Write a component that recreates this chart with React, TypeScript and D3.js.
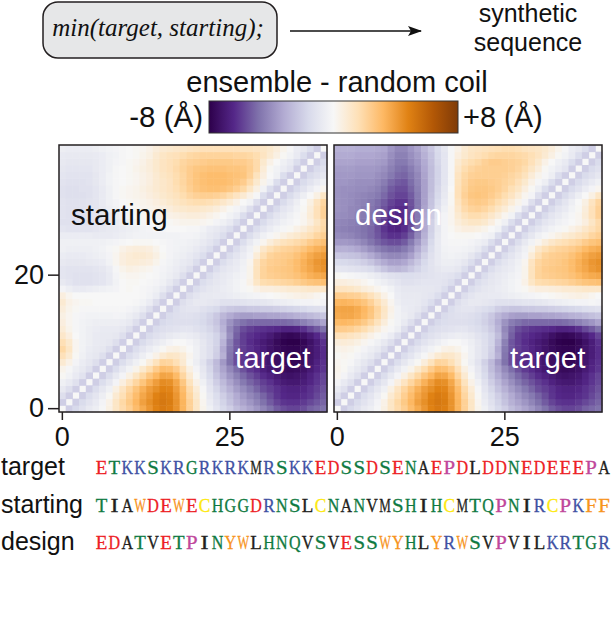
import React, { useEffect, useRef } from 'react';
import * as d3 from 'd3';

const WIDTH = 611;
const HEIGHT = 631;
const N = 40;
const PANEL_Y = { top: 145, bottom: 412 };
const PANELS_X = [[59, 327], [334, 602]];
const FONT = '"Liberation Sans", Arial, sans-serif';
const SEQ_FONT_SIZE = 18.6;

// lower right triangle, index is the row from the bottom, cells start just right of the diagonal
const TARGET_ROWS = [
  [-2,-1.6,-1.2,-.8,-.5,-.1,.5,1.2,1.8,2.3,3,3.6,4.2,4.8,5.1,4.9,4.3,3.3,2.2,1.2,.3,-.4,-1,-1.6,-2,-2.6,-3,-3.4,-3.8,-4.3,-4.8,-5.3,-5.6,-5.8,-5.8,-5.6,-5.2,-5,-4.8],
  [-2,-1.5,-1.1,-.7,-.2,.4,1.2,1.9,2.5,3.2,3.9,4.4,4.9,5.2,5,4.3,3.3,2.2,1.2,.2,-.6,-1.2,-1.8,-2.4,-3,-3.4,-3.8,-4.3,-4.8,-5.3,-5.8,-6.1,-6.2,-6.2,-6,-5.7,-5.4,-5.1],
  [-2,-1.4,-1,-.5,.1,.9,1.6,2.3,3,3.7,4.2,4.8,5.1,4.9,4.2,3.2,2,1,.1,-.8,-1.4,-2,-2.6,-3.2,-3.7,-4.2,-4.6,-5.1,-5.6,-6.1,-6.4,-6.5,-6.5,-6.3,-6.1,-5.7,-5.3],
  [-2,-1.4,-.9,-.4,.5,1.3,2,2.7,3.4,4,4.4,4.8,4.7,4,3,1.8,.8,-.1,-1,-1.7,-2.4,-3,-3.6,-4.1,-4.6,-5.1,-5.6,-5.9,-6.2,-6.5,-6.6,-6.6,-6.5,-6.2,-5.9,-5.5],
  [-2,-1.4,-.9,-.2,.6,1.3,2,2.7,3.4,4,4.5,4.4,3.7,2.6,1.4,.4,-.4,-1.2,-2,-2.7,-3.4,-4,-4.6,-5.1,-5.5,-5.9,-6.2,-6.6,-6.9,-7,-7,-6.8,-6.5,-6.1,-5.7],
  [-2,-1.4,-.8,-.2,.5,1.2,1.9,2.6,3.2,3.8,3.7,3.1,2,.9,.1,-.7,-1.5,-2.3,-3.1,-3.8,-4.4,-5,-5.5,-5.9,-6.3,-6.6,-6.9,-7.2,-7.3,-7.2,-7,-6.6,-6.2,-5.8],
  [-2,-1.4,-.8,-.3,.3,1,1.7,2.4,3,2.9,2.4,1.5,.5,-.2,-.9,-1.7,-2.6,-3.4,-4.2,-4.9,-5.5,-6,-6.3,-6.7,-7,-7.2,-7.5,-7.6,-7.5,-7.3,-6.9,-6.5,-6.1],
  [-2,-1.4,-.9,-.4,.1,.7,1.4,2.1,2,1.6,.9,.1,-.5,-1.1,-1.9,-2.7,-3.7,-4.8,-5.6,-6.1,-6.4,-6.6,-6.8,-7.1,-7.4,-7.6,-7.7,-7.7,-7.5,-7.1,-6.6,-6.2],
  [-2,-1.4,-1,-.5,-.1,.4,.9,1.2,1.1,.8,.2,-.4,-.9,-1.3,-2,-3,-4.7,-5.6,-6,-6.3,-6.5,-6.8,-7.1,-7.4,-7.6,-7.8,-7.8,-7.6,-7.2,-6.8,-6.3],
  [-2,-1.4,-1,-.6,-.3,.1,.4,.5,.3,0,-.4,-.9,-1.3,-1.9,-3.2,-4.6,-5.4,-5.9,-6.2,-6.5,-6.8,-7.2,-7.5,-7.7,-7.8,-7.8,-7.6,-7.2,-6.8,-6.3],
  [-2,-1.5,-1.1,-.8,-.5,-.2,0,0,-.2,-.5,-.9,-1.3,-1.8,-2.9,-4.4,-5.4,-5.9,-6.3,-6.6,-6.9,-7.2,-7.6,-7.9,-8,-8,-7.7,-7.3,-6.8,-6.2],
  [-2,-1.5,-1.2,-1,-.8,-.6,-.5,-.6,-.8,-1.1,-1.4,-1.8,-2.6,-4,-5.2,-5.9,-6.2,-6.4,-6.6,-6.9,-7.3,-7.6,-7.7,-7.6,-7.3,-6.9,-6.4,-5.8],
  [-2,-1.5,-1.3,-1.2,-1.1,-1,-1,-1.2,-1.4,-1.7,-2.1,-2.9,-4.2,-5,-5.6,-5.9,-6.1,-6.2,-6.3,-6.4,-6.6,-6.6,-6.5,-6.2,-5.7,-5.3,-4.8],
  [-2,-1.6,-1.4,-1.3,-1.3,-1.3,-1.4,-1.6,-1.9,-2.3,-3.1,-3.9,-4.5,-4.8,-5,-5,-5,-5,-5,-5,-4.9,-4.7,-4.4,-4.1,-3.8,-3.4],
  [-2,-1.5,-1.3,-1.2,-1.2,-1.3,-1.5,-1.8,-2.2,-2.8,-3.2,-3.5,-3.6,-3.6,-3.5,-3.5,-3.4,-3.4,-3.3,-3.2,-3,-2.9,-2.7,-2.5,-2.3],
  [-2,-1.4,-1.1,-1,-1,-1.2,-1.4,-1.6,-2,-2.2,-2.3,-2.3,-2.2,-2.2,-2.1,-2.1,-2,-1.9,-1.8,-1.7,-1.6,-1.4,-1.3,-1.2],
  [-2,-1.3,-1,-.8,-.8,-.9,-1,-1.2,-1.2,-1.2,-1.1,-1,-1,-.9,-.8,-.6,-.5,-.4,-.3,-.2,-.2,-.1,-.2],
  [-2,-1.3,-1,-.8,-.8,-.7,-.7,-.6,-.5,-.4,-.3,-.2,-.1,0,.1,.2,.3,.4,.5,.4,.2,0],
  [-2,-1.4,-1.1,-.9,-.8,-.6,-.5,-.3,-.1,.1,.4,.6,.6,.7,.8,.9,.9,1,1.1,1.1,1.1],
  [-2,-1.4,-1.1,-.9,-.7,-.5,-.3,-.1,.4,1.2,1.7,1.8,1.9,2,2.1,2.3,2.5,2.7,2.8,2.9],
  [-2,-1.4,-1,-.8,-.6,-.4,-.2,.3,1.4,2.1,2.3,2.4,2.5,2.6,2.8,3.1,3.4,3.6,3.7],
  [-2,-1.4,-1,-.8,-.6,-.3,.3,1.4,2.1,2.4,2.5,2.6,2.7,3,3.4,3.7,4.1,4.3],
  [-2,-1.4,-1,-.7,-.4,.2,1.3,2,2.3,2.4,2.5,2.7,3,3.4,3.8,4.2,4.4],
  [-2,-1.4,-1,-.6,-.2,.8,1.6,2.1,2.3,2.4,2.5,2.8,3.2,3.6,3.9,4.1],
  [-2,-1.4,-.9,-.4,.3,1.1,1.6,1.9,2.1,2.2,2.4,2.7,3.1,3.4,3.6],
  [-2,-1.4,-.8,-.3,.2,.7,1.1,1.4,1.6,1.8,2,2.4,2.7,2.9],
  [-2,-1.4,-.9,-.4,-.1,.2,.5,.8,1,1.3,1.6,2,2.3],
  [-2,-1.4,-1,-.6,-.3,-.1,.1,.4,.7,1.1,1.5,1.9],
  [-2,-1.5,-1,-.7,-.4,-.2,0,.2,.6,1.2,1.8],
  [-2,-1.5,-1,-.7,-.4,-.1,.2,.8,1.5,2.2],
  [-2,-1.5,-1,-.7,-.3,.1,.7,1.5,2.2],
  [-2,-1.5,-1,-.5,0,.5,1.3,2],
  [-2,-1.5,-1,-.5,0,.5,1.2],
  [-2,-1.5,-1.1,-.6,-.2,.2],
  [-2,-1.5,-1.1,-.7,-.4],
  [-2,-1.5,-1.2,-.9],
  [-2,-1.5,-1.2],
  [-2,-1.5],
  [-2],
];

// upper left triangles, index + 1 is the row from the bottom, cells start at the left edge
const STARTING_ROWS = [
  [-2],
  [-1.3,-2],
  [-.8,-1.3,-2],
  [-.4,-.7,-1.2,-2],
  [.1,-.3,-.7,-1.1,-2],
  [.3,-.1,-.5,-.8,-1.2,-2],
  [.9,.4,-.2,-.6,-.9,-1.3,-2],
  [1.5,.9,.1,-.4,-.7,-.9,-1.3,-2],
  [1.9,1.2,.2,-.3,-.6,-.8,-.9,-1.3,-2],
  [1.6,1,.2,-.3,-.5,-.7,-.8,-.9,-1.3,-2],
  [1.1,.6,0,-.3,-.5,-.7,-.8,-.8,-.9,-1.3,-2],
  [.8,.3,-.1,-.3,-.5,-.6,-.7,-.7,-.7,-.9,-1.3,-2],
  [.6,.2,-.1,-.3,-.4,-.5,-.5,-.5,-.5,-.6,-.8,-1.3,-2],
  [.5,.2,-.1,-.2,-.3,-.3,-.3,-.3,-.2,-.3,-.5,-.8,-1.3,-2],
  [.7,.3,.1,-.1,-.1,-.1,-.1,-.1,-.1,-.1,-.2,-.4,-.7,-1.3,-2],
  [.9,.4,.2,.1,.1,0,0,0,0,0,0,-.1,-.3,-.6,-1.3,-2],
  [.6,.2,0,0,0,0,0,0,0,0,0,0,-.1,-.3,-.6,-1.3,-2],
  [-.2,-.5,-.7,-.7,-.6,-.5,-.4,-.3,-.2,0,.1,0,-.1,-.2,-.4,-.7,-1.3,-2],
  [-.8,-1,-1.2,-1.2,-1.2,-1.1,-1,-.7,-.3,0,.1,.1,0,-.1,-.2,-.4,-.8,-1.3,-2],
  [-1,-1.1,-1.2,-1.2,-1.2,-1.1,-1,-.7,-.2,.1,.2,.2,.1,0,-.1,-.3,-.5,-.8,-1.3,-2],
  [-1,-1.1,-1.1,-1.1,-1.1,-1,-.9,-.6,-.1,.3,.5,.4,.3,.2,-.1,-.2,-.4,-.6,-.9,-1.3,-2],
  [-.8,-.9,-.9,-.9,-.8,-.7,-.6,-.3,.2,.6,.8,.8,.7,.6,.3,-.1,-.3,-.5,-.7,-.9,-1.4,-2],
  [-.6,-.7,-.7,-.7,-.6,-.5,-.4,-.2,.2,.6,.8,.9,.9,.8,.5,.1,-.2,-.4,-.5,-.7,-1,-1.4,-2],
  [-.4,-.5,-.5,-.5,-.5,-.4,-.3,-.1,.1,.4,.6,.7,.7,.6,.3,0,-.2,-.3,-.4,-.5,-.7,-1,-1.4,-2],
  [-.4,-.4,-.4,-.4,-.4,-.4,-.4,-.3,-.2,-.1,0,.1,.1,.1,0,-.1,-.2,-.3,-.3,-.4,-.5,-.7,-1,-1.4,-2],
  [-.6,-.6,-.6,-.6,-.6,-.7,-.7,-.7,-.6,-.5,-.4,-.3,-.3,-.3,-.3,-.3,-.3,-.3,-.2,-.2,-.3,-.5,-.8,-1,-1.4,-2],
  [-1,-1.1,-1.1,-1.1,-1.1,-1,-.9,-.8,-.7,-.6,-.5,-.4,-.3,-.2,-.1,-.1,0,0,0,-.1,-.1,-.3,-.6,-.8,-1,-1.4,-2],
  [-1.2,-1.2,-1.2,-1.2,-1.2,-1.1,-1,-.8,-.6,-.4,-.3,-.2,-.1,0,0,.1,.1,.2,.3,.3,.3,.2,.1,-.2,-.4,-.7,-1.4,-2],
  [-1.1,-1.2,-1.2,-1.2,-1.1,-1,-.9,-.7,-.5,-.3,-.1,0,.1,.1,.2,.3,.4,.5,.6,.7,.7,.6,.4,.2,0,-.3,-.6,-1.4,-2],
  [-1.1,-1.2,-1.2,-1.2,-1.1,-1,-.8,-.5,-.3,-.1,0,.1,.2,.3,.4,.5,.7,.9,1,1.1,1.1,1,.9,.7,.4,.1,-.2,-.5,-1.3,-2],
  [-1.1,-1.2,-1.2,-1.2,-1.1,-1,-.7,-.4,-.2,0,.1,.2,.3,.4,.6,.8,1,1.2,1.4,1.6,1.7,1.7,1.6,1.4,1.1,.8,.4,0,-.3,-1.3,-2],
  [-1.2,-1.3,-1.3,-1.3,-1.2,-1,-.7,-.4,-.1,.1,.2,.3,.4,.6,.8,1,1.2,1.4,1.7,2,2.2,2.3,2.3,2.2,2,1.7,1.3,.9,.4,-.1,-1.4,-2],
  [-1.2,-1.3,-1.3,-1.2,-1.2,-1,-.7,-.4,-.1,.1,.2,.3,.5,.7,.9,1.1,1.3,1.6,1.9,2.3,2.6,2.8,2.9,2.9,2.8,2.6,2.3,1.9,1.2,.5,-.3,-1.4,-2],
  [-1.1,-1.2,-1.2,-1.2,-1.1,-.9,-.6,-.3,-.1,0,.1,.2,.4,.6,.9,1.1,1.3,1.7,2,2.4,2.7,2.9,3,3,3,2.9,2.7,2.4,1.8,1,.3,-.3,-1.4,-2],
  [-1,-1.1,-1.1,-1.1,-1.1,-.9,-.6,-.3,-.1,0,.1,.2,.4,.6,.9,1.2,1.4,1.7,2,2.4,2.7,2.9,3,3,3,2.9,2.8,2.7,2.2,1.4,.6,0,-.4,-1.4,-2],
  [-.9,-1,-1,-1,-1,-.8,-.6,-.4,-.1,0,.1,.3,.5,.7,1,1.3,1.5,1.8,2.1,2.4,2.6,2.7,2.8,2.8,2.8,2.7,2.7,2.6,2.3,1.8,.8,.1,-.3,-.6,-1,-2],
  [-.8,-.9,-.9,-.9,-.9,-.8,-.6,-.4,-.2,-.1,.1,.2,.4,.7,1,1.3,1.5,1.7,2,2.2,2.3,2.4,2.5,2.5,2.5,2.5,2.4,2.4,2.2,1.8,1,.4,0,-.4,-.7,-1.4,-2],
  [-.7,-.8,-.8,-.8,-.8,-.7,-.6,-.4,-.3,-.1,0,.1,.3,.5,.9,1.2,1.4,1.5,1.7,1.9,2,2.1,2.1,2.1,2.1,2.1,2,2,1.9,1.7,1.3,.9,.5,.1,-.3,-.7,-1.4,-2],
  [-.5,-.6,-.6,-.6,-.6,-.5,-.4,-.3,-.2,-.1,0,.1,.2,.4,.7,.9,1,1.1,1.2,1.3,1.4,1.5,1.5,1.5,1.5,1.5,1.5,1.4,1.4,1.3,1.2,1,.7,.3,-.1,-.6,-.9,-1.4,-2],
];

const DESIGN_ROWS = [
  [-2],
  [-1.2,-2],
  [-.7,-1.2,-2],
  [-.2,-.7,-1.2,-2],
  [.2,-.2,-.7,-1.2,-2],
  [.3,.1,-.4,-.8,-1.2,-2],
  [.2,.1,-.1,-.5,-.9,-1.3,-2],
  [.1,.2,.1,-.2,-.5,-.8,-1.3,-2],
  [.3,.4,.3,.1,-.2,-.5,-.8,-1.3,-2],
  [.7,.8,.7,.5,.2,-.1,-.4,-.8,-1.3,-2],
  [1.5,1.5,1.3,1.1,.8,.4,.1,-.2,-.6,-1.3,-2],
  [2.4,2.4,2.3,2,1.7,1.2,.7,.2,-.1,-.5,-1.3,-2],
  [3.1,3.2,3.1,2.9,2.5,2,1.4,.7,.1,-.3,-.7,-1.3,-2],
  [3.6,3.7,3.7,3.5,3.1,2.6,1.9,1.1,.3,-.3,-.5,-.8,-1.3,-2],
  [3.7,3.8,3.8,3.6,3.2,2.7,2,1.2,.4,-.3,-.6,-.7,-.9,-1.3,-2],
  [3.2,3.3,3.2,3,2.7,2.2,1.6,.9,.2,-.5,-.7,-.7,-.8,-1,-1.4,-2],
  [2.4,2.4,2.3,2.2,1.9,1.5,1,.4,0,-.6,-.8,-.8,-.8,-.9,-1,-1.4,-2],
  [1.3,1.3,1.2,1,.7,.5,.2,0,-.3,-.7,-.9,-.9,-.9,-.9,-.9,-1,-1.4,-2],
  [.6,.6,.5,.4,.2,0,-.3,-.5,-.8,-1,-1.2,-1.2,-1.1,-1,-1,-1,-1.1,-1.4,-2],
  [.1,0,-.1,-.2,-.3,-.5,-.7,-1,-1.2,-1.3,-1.4,-1.4,-1.3,-1.2,-1.1,-1,-1,-1.1,-1.4,-2],
  [-.9,-1,-1.1,-1.2,-1.3,-1.5,-1.9,-2.3,-2.7,-2.8,-2.6,-2.2,-1.8,-1.4,-1.1,-.9,-.7,-.7,-.9,-1.4,-2],
  [-1.5,-1.6,-1.7,-1.8,-2,-2.3,-2.8,-3.2,-3.5,-3.5,-3.3,-2.8,-2.2,-1.6,-1.1,-.7,-.5,-.5,-.6,-.9,-1.4,-2],
  [-2.2,-2.3,-2.4,-2.5,-2.8,-3.2,-3.6,-4,-4.2,-4.2,-4,-3.5,-2.7,-1.9,-1.2,-.7,-.4,-.3,-.4,-.5,-.9,-1.4,-2],
  [-3,-3,-3.1,-3.3,-3.6,-4,-4.4,-4.7,-4.9,-4.9,-4.6,-4.1,-3.2,-2.3,-1.4,-.7,-.3,-.2,-.2,-.3,-.4,-.7,-1.4,-2],
  [-3.7,-3.7,-3.8,-4,-4.3,-4.7,-5.1,-5.4,-5.6,-5.6,-5.3,-4.6,-3.7,-2.7,-1.6,-.7,-.2,-.1,-.1,-.1,-.2,-.4,-.6,-1.4,-2],
  [-4.1,-4.2,-4.3,-4.5,-4.7,-5,-5.4,-5.9,-6.2,-6.2,-5.9,-5.2,-4.2,-3,-1.8,-.8,-.2,0,.1,.1,.1,0,-.2,-.4,-1.4,-2],
  [-4.3,-4.4,-4.5,-4.6,-4.8,-5,-5.5,-6.1,-6.5,-6.6,-6.3,-5.6,-4.5,-3.2,-1.9,-.9,-.2,.1,.4,.6,.6,.5,.3,0,-.3,-1.4,-2],
  [-4.2,-4.3,-4.4,-4.5,-4.7,-4.9,-5.4,-6,-6.5,-6.7,-6.5,-5.8,-4.6,-3.2,-1.9,-.9,-.2,.2,.7,1,1.2,1.2,1,.6,.1,-.4,-1.4,-2],
  [-4,-4.1,-4.2,-4.4,-4.6,-4.8,-5.2,-5.7,-6.3,-6.5,-6.4,-5.7,-4.6,-3.3,-2.1,-1,-.2,.2,.9,1.4,1.7,1.7,1.5,1.1,.7,.2,-.3,-1.4,-2],
  [-3.9,-4,-4.2,-4.3,-4.5,-4.7,-5,-5.5,-6,-6.3,-6.3,-5.6,-4.6,-3.4,-2.3,-1.2,-.4,.2,1.1,1.8,2.1,2.2,2,1.7,1.2,.8,.3,-.2,-1.3,-2],
  [-3.9,-4,-4.1,-4.3,-4.4,-4.6,-4.9,-5.3,-5.8,-6.1,-6.1,-5.5,-4.6,-3.5,-2.4,-1.4,-.6,.1,1.3,2,2.4,2.5,2.4,2.1,1.7,1.3,.8,.3,-.2,-1.3,-2],
  [-3.9,-4,-4.1,-4.2,-4.3,-4.4,-4.6,-5,-5.5,-5.8,-5.8,-5.3,-4.5,-3.5,-2.5,-1.6,-.8,.1,1.5,2.2,2.6,2.7,2.6,2.4,2.1,1.7,1.3,.8,.2,-.2,-1.3,-2],
  [-3.9,-4,-4,-4.1,-4.1,-4.2,-4.4,-4.8,-5.3,-5.6,-5.6,-5.1,-4.4,-3.5,-2.6,-1.7,-.9,0,1.5,2.1,2.5,2.6,2.6,2.5,2.3,2,1.6,1.2,.6,.1,-.5,-1.4,-2],
  [-3.8,-3.8,-3.9,-4,-4,-4,-4.2,-4.5,-5,-5.3,-5.4,-4.9,-4.3,-3.5,-2.6,-1.8,-1,-.1,1.4,2,2.4,2.5,2.5,2.4,2.3,2.1,1.9,1.5,1,.4,-.1,-.5,-1.4,-2],
  [-3.7,-3.7,-3.7,-3.8,-3.8,-3.8,-4,-4.2,-4.6,-5,-5.1,-4.7,-4.2,-3.4,-2.6,-1.8,-1,-.1,1.3,1.9,2.2,2.3,2.3,2.3,2.3,2.2,2,1.8,1.4,.8,.3,-.1,-.5,-1.4,-2],
  [-3.6,-3.6,-3.6,-3.7,-3.7,-3.7,-3.8,-4,-4.4,-4.8,-4.9,-4.5,-4,-3.3,-2.6,-1.8,-1,-.1,1.1,1.7,2,2.2,2.3,2.3,2.3,2.3,2.2,2,1.7,1.2,.7,.1,-.3,-.6,-1,-2],
  [-3.4,-3.4,-3.4,-3.5,-3.5,-3.5,-3.6,-3.7,-4.2,-4.6,-4.6,-4.2,-3.8,-3.2,-2.5,-1.7,-1,-.1,.9,1.4,1.7,1.9,2.2,2.4,2.4,2.3,2.2,2.1,1.9,1.5,1,.4,0,-.4,-.7,-1.4,-2],
  [-3.2,-3.2,-3.2,-3.3,-3.3,-3.3,-3.4,-3.5,-4,-4.4,-4.4,-4,-3.6,-3,-2.4,-1.6,-1,-.1,.6,1,1.3,1.5,1.7,1.9,2,2,2,1.9,1.8,1.6,1.3,.9,.5,.1,-.3,-.7,-1.4,-2],
  [-3,-3,-3,-3.1,-3.1,-3.1,-3.2,-3.3,-3.8,-4.2,-4.2,-3.8,-3.4,-2.8,-2.2,-1.5,-.9,-.1,.4,.9,1.2,1.3,1.4,1.5,1.6,1.7,1.7,1.6,1.4,1.3,1.2,1,.7,.3,-.1,-.6,-.9,-1.4,-2],
];

const X_TICKS = [0, 25];
const Y_TICKS = [0, 20];

const SEQUENCES = [
  { name: 'target', letters: 'ETKKSKRGRKRKMRSKKEDSSDSENAEPDLDDNEDEEEPA', y: 474 },
  { name: 'starting', letters: 'TIAWDEWECHGGDRNSLCNANVMSHIHCMTQPNIRCPKFF', y: 512 },
  { name: 'design', letters: 'EDATVETPINYWLHNQVSVESSWYHLYRWSVPVILKRTGR', y: 549 },
];

const RESIDUE_COLORS: Record<string, string> = {
  D: '#ed2024', E: '#ed2024',
  K: '#3f51a3', R: '#3f51a3',
  S: '#0f7a42', T: '#0f7a42', N: '#0f7a42', Q: '#0f7a42', G: '#0f7a42', H: '#0f7a42',
  A: '#231f20', V: '#231f20', L: '#231f20', I: '#231f20', M: '#231f20',
  P: '#c0479b',
  W: '#f7941d', Y: '#f7941d', F: '#f7941d',
  C: '#fde910',
};

// natural glyph widths of the serif face, in em, so that each letter can be squeezed to one pitch
const GLYPH_EM: Record<string, number> = {
  W: 0.944, M: 0.889,
  K: 0.722, G: 0.722, N: 0.722, D: 0.722, A: 0.722, H: 0.722, Q: 0.722, Y: 0.722, V: 0.722,
  R: 0.667, C: 0.667,
  E: 0.611, T: 0.611, L: 0.611,
  S: 0.556, P: 0.556, F: 0.556,
  I: 0.333,
};

const color = d3
  .scaleLinear<string>()
  .domain(d3.range(11).map((i) => -8 + i * 1.6))
  .range(d3.schemePuOr[11]);

const index = d3.range(N);

type PanelProps = {
  x0: number;
  x1: number;
  upper: number[][];
  showY: boolean;
  labels: { text: string; x: number; y: number; fill: string }[];
};

const Panel = ({ x0, x1, upper, showY, labels }: PanelProps) => {
  const axesRef = useRef<SVGGElement>(null);
  const xScale = d3.scaleBand<number>().domain(index).range([x0, x1]);
  const yScale = d3.scaleBand<number>().domain(index).range([PANEL_Y.bottom, PANEL_Y.top]);

  useEffect(() => {
    const svgElement = d3.select(axesRef.current);
    svgElement.selectAll('*').remove();

    const xAxis = svgElement
      .append('g')
      .attr('transform', `translate(0,${PANEL_Y.bottom})`)
      .call(d3.axisBottom(xScale).tickValues(X_TICKS).tickSize(8).tickPadding(7));
    xAxis.select('.domain').remove();

    const axes = [xAxis];
    if (showY) {
      const yAxis = svgElement
        .append('g')
        .attr('transform', `translate(${x0},0)`)
        .call(d3.axisLeft(yScale).tickValues(Y_TICKS).tickSize(11).tickPadding(4));
      yAxis.select('.domain').remove();
      axes.push(yAxis);
    }
    axes.forEach((a) => {
      a.attr('font-family', FONT).attr('font-size', 27);
      a.selectAll('line').attr('stroke', '#231f20').attr('stroke-width', 1.5);
      a.selectAll('text').attr('fill', '#111');
    });
  }, [x0, showY]);

  const cells: React.ReactNode[] = [];
  const addCell = (c: number, r: number, v: number) =>
    cells.push(
      <rect
        key={`${c}-${r}`}
        x={xScale(c)}
        y={yScale(r)}
        width={xScale.bandwidth() + 0.5}
        height={yScale.bandwidth() + 0.5}
        fill={color(v)}
      />
    );

  index.forEach((i) => addCell(i, i, 0));
  TARGET_ROWS.forEach((row, r) => row.forEach((v, i) => addCell(r + 1 + i, r, v)));
  upper.forEach((row, r) => row.forEach((v, c) => addCell(c, r + 1, v)));

  return (
    <g>
      <g>{cells}</g>
      <rect
        x={x0}
        y={PANEL_Y.top}
        width={x1 - x0}
        height={PANEL_Y.bottom - PANEL_Y.top}
        fill="none"
        stroke="#231f20"
        strokeWidth={1.5}
      />
      <g ref={axesRef} />
      {labels.map((l) => (
        <text key={l.text} x={l.x} y={l.y} fill={l.fill} fontFamily={FONT} fontSize={29.5}>
          {l.text}
        </text>
      ))}
    </g>
  );
};

const App = () => {
  const seqX = d3.scalePoint<number>().domain(index).range([101.5, 604]);
  const barStops = d3.range(0, 1.001, 0.05);

  return (
    <svg
      width={WIDTH}
      height={HEIGHT}
      style={{ position: 'absolute', left: 0, top: 0, background: '#fff' }}
    >
      <defs>
        <linearGradient id="puor">
          {barStops.map((t) => (
            <stop key={t} offset={t} stopColor={color(-8 + 16 * t)} />
          ))}
        </linearGradient>
        <marker id="head" markerWidth="14" markerHeight="10" refX="13" refY="5" orient="auto" markerUnits="userSpaceOnUse">
          <path d="M0,0 L14,5 L0,10 L3,5 Z" fill="#111" />
        </marker>
      </defs>

      <rect x={43} y={2} width={234} height={56} rx={15} fill="#e6e7e8" stroke="#231f20" strokeWidth={1.5} />
      <text x={158} y={36} textAnchor="middle" fontFamily='"Liberation Serif", serif' fontStyle="italic" fontSize={25} fill="#111">
        min(target, starting);
      </text>
      <line x1={290} x2={421} y1={31} y2={31} stroke="#111" strokeWidth={1.5} markerEnd="url(#head)" />
      <text x={528} y={22} textAnchor="middle" fontFamily={FONT} fontSize={25} fill="#111">synthetic</text>
      <text x={528} y={51} textAnchor="middle" fontFamily={FONT} fontSize={25} fill="#111">sequence</text>

      <text x={337} y={92} textAnchor="middle" fontFamily={FONT} fontSize={29} fill="#111">ensemble - random coil</text>
      <text x={203} y={127} textAnchor="end" fontFamily={FONT} fontSize={29.5} fill="#111">-8 (Å)</text>
      <rect x={209} y={101} width={249} height={32} fill="url(#puor)" stroke="#333" strokeWidth={1} />
      <text x={463} y={127} fontFamily={FONT} fontSize={29} fill="#111">+8 (Å)</text>

      <Panel
        x0={PANELS_X[0][0]}
        x1={PANELS_X[0][1]}
        upper={STARTING_ROWS}
        showY={true}
        labels={[
          { text: 'starting', x: 71, y: 225, fill: '#111' },
          { text: 'target', x: 235, y: 368, fill: '#fff' },
        ]}
      />
      <Panel
        x0={PANELS_X[1][0]}
        x1={PANELS_X[1][1]}
        upper={DESIGN_ROWS}
        showY={false}
        labels={[
          { text: 'design', x: 355, y: 225, fill: '#fff' },
          { text: 'target', x: 510, y: 368, fill: '#fff' },
        ]}
      />

      {SEQUENCES.map((s) => (
        <g key={s.name}>
          <text x={1} y={s.y + 1} fontFamily={FONT} fontSize={25} fill="#111">{s.name}</text>
          {s.letters.split('').map((ch, i) => {
            const w = ch === 'I' ? 8 : 11.6;
            const sx = w / (GLYPH_EM[ch] * SEQ_FONT_SIZE);
            return (
              <text
                key={i}
                transform={`translate(${seqX(i)},${s.y}) scale(${sx},1)`}
                textAnchor="middle"
                fontFamily='"Liberation Serif", serif'
                fontSize={SEQ_FONT_SIZE}
                fill={RESIDUE_COLORS[ch]}
                stroke={RESIDUE_COLORS[ch]}
                strokeWidth={0.3}
              >
                {ch}
              </text>
            );
          })}
        </g>
      ))}
    </svg>
  );
};

export default App;
